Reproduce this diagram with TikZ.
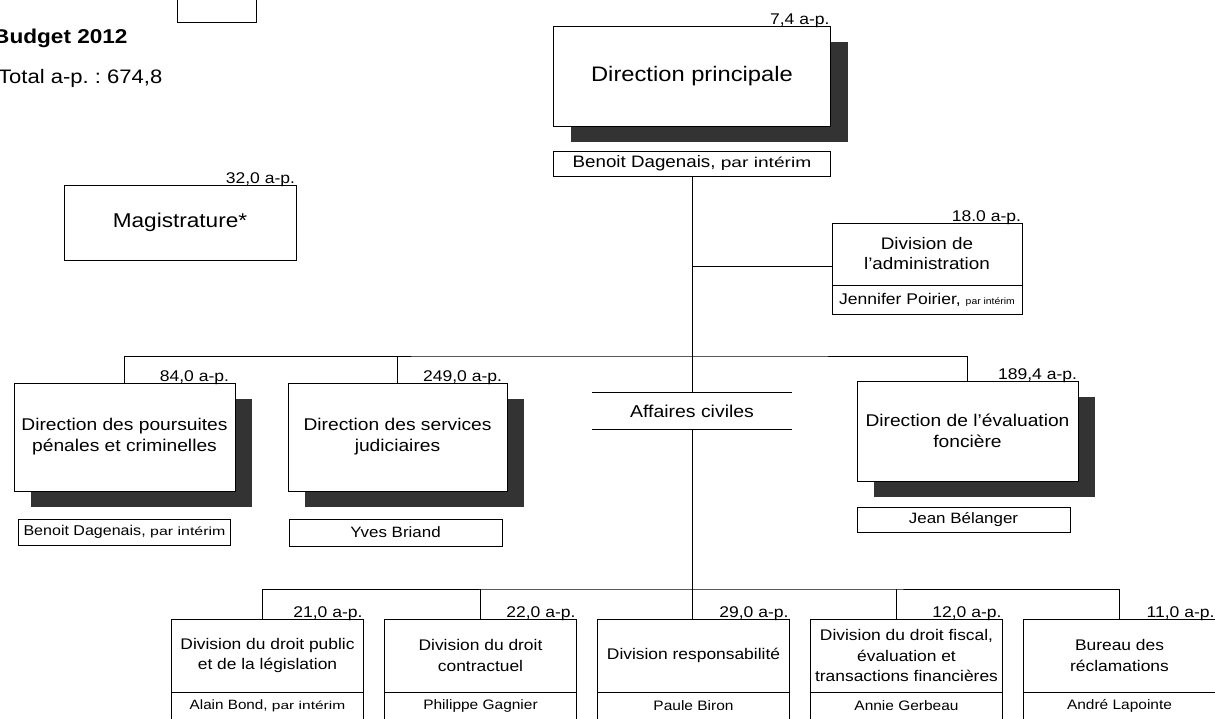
\documentclass[tikz,border=0pt]{standalone}
\usepackage{fontspec}
\setmainfont{Liberation Sans}[FakeStretch=1.13]
\newfontfamily\pifont{Liberation Sans}[FakeStretch=1.35]
\usepackage{tikz}
\usetikzlibrary{positioning,shadows}
\definecolor{shadowgray}{RGB}{51,51,51}
\frenchspacing

\tikzset{
  unit/.style={draw,line width=1pt,fill=white,inner sep=0pt,outer sep=0pt,align=center},
  dirbox/.style={unit,drop shadow={shadow xshift=17pt,shadow yshift=-16pt,fill=shadowgray,opacity=1}},
  namebox/.style={unit},
  amt/.style={anchor=base east,inner sep=0pt,outer sep=0pt,yshift=2pt,xshift=-1pt,font=\fontsize{15.5}{18}\selectfont},
  link/.style={line width=1pt},
}

\begin{document}
\begin{tikzpicture}[x=1pt,y=-1pt]
  \useasboundingbox (0,0) rectangle (1215,718);
  % budget notes
  \node[unit,minimum width=79pt,minimum height=30pt] (topbox) at (216.5,7) {};
  \node[anchor=base west,inner sep=0pt,font=\bfseries\fontsize{20}{24}\selectfont] (budget) at (-7,43) {Budget 2012};
  \node[anchor=base west,inner sep=0pt,font=\fontsize{19.5}{24}\selectfont] (total) at (-2,83) {Total a-p. : 674,8};

  % direction principale
  \node[dirbox,minimum width=277pt,minimum height=100pt,font=\fontsize{21}{25}\selectfont] (dirp) at (692,76) {Direction principale};
  \node[amt] (dirp-ap) at (dirp.north east) {7,4 a-p.};
  \node[namebox,minimum width=277pt,minimum height=25pt,below=25pt of dirp,font=\fontsize{16.6}{19}\selectfont] (dirpn) {Benoit Dagenais, {\pifont\fontsize{14.2}{17}\selectfont par intérim}};

  % magistrature
  \node[unit,minimum width=232pt,minimum height=75pt,font=\fontsize{20}{24}\selectfont] (mag) at (180,222.5) {Magistrature*};
  \node[amt] (mag-ap) at (mag.north east) {32,0 a-p.};

  % administration
  \node[unit,minimum width=190pt,minimum height=62pt,font=\fontsize{16.7}{20}\selectfont] (adm) at (927,254) {Division de\\l’administration};
  \node[amt] (adm-ap) at (adm.north east) {18.0 a-p.};
  \node[namebox,minimum width=190pt,minimum height=29pt,below=0pt of adm,font=\fontsize{15.5}{18}\selectfont] (admn) {Jennifer Poirier, {\fontsize{9.2}{11}\selectfont par intérim}};

  % directions
  \node[dirbox,minimum width=221pt,minimum height=108pt,font=\fontsize{17}{21}\selectfont] (pp) at (124.5,437) {Direction des poursuites\\pénales et criminelles};
  \node[amt,xshift=-5pt] (pp-ap) at (pp.north east) {84,0 a-p.};
  \node[namebox,minimum width=212pt,minimum height=26pt,below=28pt of pp,font=\fontsize{14.2}{17}\selectfont] (ppn) {Benoit Dagenais, {\pifont\fontsize{11.8}{14}\selectfont par intérim}};

  \node[dirbox,minimum width=219pt,minimum height=108pt,font=\fontsize{17}{21}\selectfont] (sj) at (397.5,437) {Direction des services\\judiciaires};
  \node[amt,xshift=-4pt] (sj-ap) at (sj.north east) {249,0 a-p.};
  \node[namebox,minimum width=213pt,minimum height=27pt,below=28pt of sj,xshift=-2pt,font=\fontsize{15}{18}\selectfont] (sjn) {Yves Briand};

  \node[dirbox,minimum width=221pt,minimum height=100pt,font=\fontsize{17}{21}\selectfont] (ef) at (967.5,431) {Direction de l’évaluation\\foncière};
  \node[amt] (ef-ap) at (ef.north east) {189,4 a-p.};
  \node[namebox,minimum width=213pt,minimum height=25pt,below=26pt of ef,xshift=-4pt,font=\fontsize{15}{18}\selectfont] (efn) {Jean Bélanger};

  % affaires civiles
  \node[inner sep=0pt,minimum width=199pt,minimum height=36pt,font=\fontsize{17.2}{20}\selectfont] (civ) at (692,411) {Affaires civiles};
  \draw[link] (civ.north west) -- (civ.north east) (civ.south west) -- (civ.south east);

  % divisions
  \node[unit,minimum width=192pt,minimum height=73pt,font=\fontsize{15.4}{20.5}\selectfont] (b1) at (267.5,655.5) {Division du droit public\\et de la législation};
  \node[unit,minimum width=192pt,minimum height=73pt,right=21pt of b1,font=\fontsize{15.4}{20.5}\selectfont] (b2) {Division du droit\\contractuel};
  \node[unit,minimum width=192pt,minimum height=73pt,right=21pt of b2,font=\fontsize{15.4}{20.5}\selectfont] (b3) {Division responsabilité};
  \node[unit,minimum width=192pt,minimum height=73pt,right=21pt of b3,font=\fontsize{15.4}{20.5}\selectfont] (b4) {Division du droit fiscal,\\évaluation et\\transactions financières};
  \node[unit,minimum width=192pt,minimum height=73pt,right=21pt of b4,font=\fontsize{15.4}{20.5}\selectfont] (b5) {Bureau des\\réclamations};
  \node[amt] (b1-ap) at (b1.north east) {21,0 a-p.};
  \node[amt] (b2-ap) at (b2.north east) {22,0 a-p.};
  \node[amt] (b3-ap) at (b3.north east) {29,0 a-p.};
  \node[amt] (b4-ap) at (b4.north east) {12,0 a-p.};
  \node[amt] (b5-ap) at (b5.north east) {11,0 a-p.};
  \node[namebox,minimum width=192pt,minimum height=27pt,below=0pt of b1,font=\fontsize{13.5}{16}\selectfont] (n1) {Alain Bond, {\pifont\fontsize{11.5}{14}\selectfont par intérim}};
  \node[namebox,minimum width=192pt,minimum height=27pt,below=0pt of b2,font=\fontsize{13.7}{16}\selectfont] (n2) {Philippe Gagnier};
  \node[namebox,minimum width=192pt,minimum height=27pt,below=0pt of b3,font=\fontsize{13.7}{16}\selectfont] (n3) {Paule Biron};
  \node[namebox,minimum width=192pt,minimum height=27pt,below=0pt of b4,font=\fontsize{13.7}{16}\selectfont] (n4) {Annie Gerbeau};
  \node[namebox,minimum width=192pt,minimum height=27pt,below=0pt of b5,font=\fontsize{13.7}{16}\selectfont] (n5) {André Lapointe};

  % connectors
  \coordinate (midbus) at (692,356);
  \coordinate (lowbus) at (692,589);
  \coordinate (admj) at ([yshift=-12pt]adm.west);
  \draw[link] (dirpn.south) -- (dirpn.south |- civ.north);
  \draw[link] (admj) -- (admj -| dirpn.south);
  \draw[link] (pp.north) |- (midbus) -| (ef.north);
  \draw[link] (sj.north) -- (sj.north |- midbus);
  \draw[link] (civ.south) -- (civ.south |- b3.north);
  \draw[link] ([xshift=-5.5pt]b1.north) |- (lowbus) -| (b5.north);
  \draw[link] (b2.north) -- (b2.north |- lowbus);
  \draw[link] ([xshift=-10pt]b4.north) -- ([xshift=-10pt]b4.north |- lowbus);
\end{tikzpicture}
\end{document}
